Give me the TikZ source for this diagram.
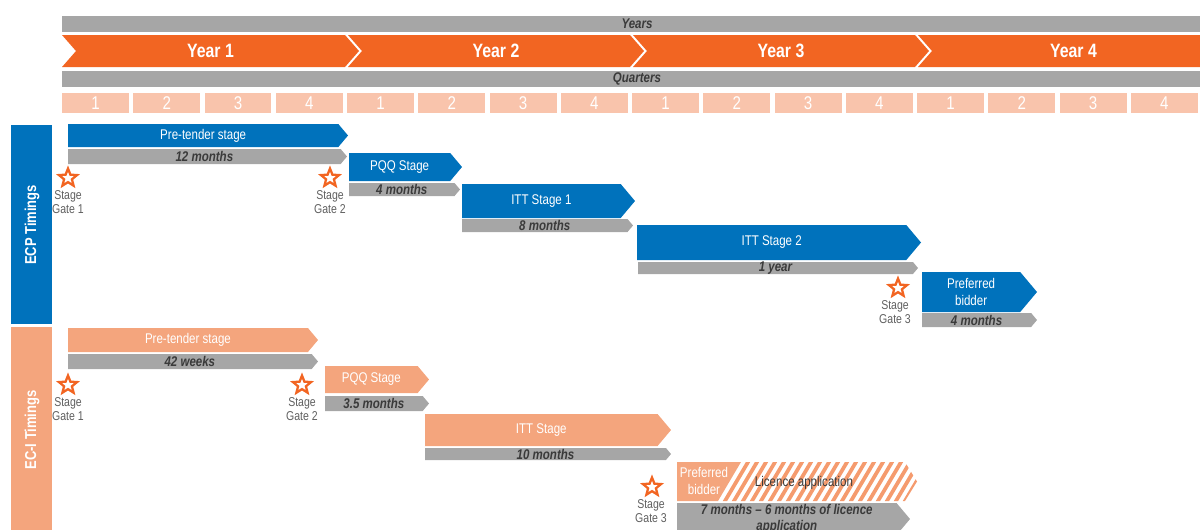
\documentclass[tikz,border=0pt]{standalone}
\usepackage{fontspec}
\setmainfont[FakeStretch=0.82]{Liberation Sans}
\usepackage{tikz}
\usetikzlibrary{shapes}
\definecolor{yearorange}{HTML}{F26522}
\definecolor{ecpblue}{HTML}{0072BC}
\definecolor{ecisalmon}{HTML}{F4A57D}
\definecolor{hatchcol}{HTML}{F59B6E}
\definecolor{quartercol}{HTML}{F9C4AC}
\definecolor{bargray}{HTML}{A6A6A6}
\definecolor{darktext}{HTML}{3A3A3A}
\definecolor{gatetxt}{HTML}{5F5F5F}
\tikzset{
	head bar/.style={fill=bargray,minimum width=23cm,minimum height=0.32cm,inner sep=0pt,
		font=\fontsize{8}{9}\selectfont\bfseries\itshape,text=darktext},
	quarter/.style={fill=quartercol,minimum width=1.34cm,minimum height=0.4cm,inner sep=0pt,
		font=\fontsize{10.5}{12}\selectfont,text=white},
	year text/.style={font=\fontsize{11}{12}\selectfont\bfseries,text=white},
	side text/.style={rotate=90,font=\fontsize{9}{10}\selectfont\bfseries,text=white},
	bar text/.style={font=\fontsize{8}{10}\selectfont,text=white,align=center,inner sep=0pt},
	dur text/.style={font=\fontsize{8}{9}\selectfont\bfseries\itshape,text=darktext,align=center,inner sep=0pt},
	gate/.style={star,star points=5,star point ratio=2.3,draw=yearorange,line width=1.3pt,
		minimum size=0.38cm,inner sep=0pt},
	gate text/.style={font=\fontsize{7.3}{7.9}\selectfont,text=gatetxt,align=center,inner sep=0pt}
}
% #1 name, #2 fill, #3 text style, #4 left, #5 top, #6 tip, #7 bottom, #8 text
\newcommand{\stagebar}[8]{%
	\fill[#2] (#4,#5) -- ({#6-0.42*(#7-#5)},#5) -- (#6,{(#5+#7)/2}) -- ({#6-0.42*(#7-#5)},#7) -- (#4,#7) -- cycle;
	\node[#3] (#1) at ({(#4+#6)/2-0.21*(#7-#5)},{(#5+#7)/2}) {#8};
}
% #1 name, #2 left, #3 right, #4 text
\newcommand{\yearchev}[4]{%
	\fill[yearorange] (#2,35) -- (#3,35) -- (#3+14,51) -- (#3,67) -- (#2,67) -- (#2+14,51) -- cycle;
	\node[year text] (#1) at ({(#2+#3)/2+7},51) {#4};
}

\begin{document}
\begin{tikzpicture}[x=0.02cm,y=-0.02cm]
	\useasboundingbox (0,0) rectangle (1200,529);
	\clip (0,0) rectangle (1200,529);

	% time scale
	\node[head bar] (yearsbar) at (637,24) {Years};
	\yearchev{year1}{62}{345}{Year 1}
	\yearchev{year2}{348}{630}{Year 2}
	\yearchev{year3}{633}{915}{Year 3}
	\yearchev{year4}{918}{1215}{Year 4}
	\node[head bar] (quartersbar) at (637,79) {Quarters};
	\foreach \i in {0,...,15}{
		\pgfmathtruncatemacro{\qn}{mod(\i,4)+1}
		\node[quarter] (q\i) at ({95.5+71.25*\i},103) {\qn};
	}

	% ECP timings
	\fill[ecpblue] (11,125) rectangle (52,324);
	\node[side text] (ecp) at (32,225) {ECP Timings};
	\stagebar{ecppre}{ecpblue}{bar text}{68}{124}{348}{147}{Pre-tender stage}
	\stagebar{ecppred}{bargray}{dur text}{68}{149}{347}{164}{12 months}
	\stagebar{ecppqq}{ecpblue}{bar text}{349}{153}{462}{181}{PQQ Stage}
	\stagebar{ecppqqd}{bargray}{dur text}{349}{183}{460}{196}{4 months}
	\stagebar{ecpitta}{ecpblue}{bar text}{462}{184}{635}{218}{ITT Stage 1}
	\stagebar{ecpittad}{bargray}{dur text}{462}{219}{633}{232}{8 months}
	\stagebar{ecpittb}{ecpblue}{bar text}{637}{225}{921}{260}{ITT Stage 2}
	\stagebar{ecpittbd}{bargray}{dur text}{638}{262}{918}{274}{1 year}
	\stagebar{ecppb}{ecpblue}{bar text}{922}{272}{1037}{312}{Preferred\\bidder}
	\stagebar{ecppbd}{bargray}{dur text}{922}{313}{1037}{327}{4 months}
	\node[gate] (ecpg1) at (68,178) {};
	\node[gate text] (ecpg1t) at (68,202) {Stage\\Gate 1};
	\node[gate] (ecpg2) at (330,178) {};
	\node[gate text] (ecpg2t) at (330,202) {Stage\\Gate 2};
	\node[gate] (ecpg3) at (898,288) {};
	\node[gate text] (ecpg3t) at (895,312) {Stage\\Gate 3};

	% EC-I timings
	\fill[ecisalmon] (11,327) rectangle (52,535);
	\node[side text] (eci) at (32,430) {EC-I Timings};
	\stagebar{ecipre}{ecisalmon}{bar text}{68}{328}{318}{352}{Pre-tender stage}
	\stagebar{ecipred}{bargray}{dur text}{68}{354}{318}{369}{42 weeks}
	\stagebar{ecipqq}{ecisalmon}{bar text}{325}{366}{429}{393}{PQQ Stage}
	\stagebar{ecipqqd}{bargray}{dur text}{325}{396}{429}{411}{3.5 months}
	\stagebar{eciitt}{ecisalmon}{bar text}{425}{414}{671}{446}{ITT Stage}
	\stagebar{eciittd}{bargray}{dur text}{425}{448}{671}{460}{10 months}
	\fill[ecisalmon] (677,462) -- (741,462) -- (718,501) -- (677,501) -- cycle;
	\begin{scope}
		\clip (718,501) -- (741,462) -- (905,462) -- (917,481.5) -- (905,501) -- cycle;
		\foreach \k in {0,...,22}
			\draw[hatchcol,line width=0.075cm] ({722+9*\k},506) -- ++(29,-49);
	\end{scope}
	\node[bar text] (ecipb) at (704,481) {Preferred\\bidder};
	\node[bar text,text=darktext] (ecilic) at (804,483) {Licence application};
	\stagebar{ecilicd}{bargray}{dur text}{677}{503}{910}{535}{7 months -- 6 months of licence\\application}
	\node[gate] (ecig1) at (68,385) {};
	\node[gate text] (ecig1t) at (68,409) {Stage\\Gate 1};
	\node[gate] (ecig2) at (302,385) {};
	\node[gate text] (ecig2t) at (302,409) {Stage\\Gate 2};
	\node[gate] (ecig3) at (652,487) {};
	\node[gate text] (ecig3t) at (651,511) {Stage\\Gate 3};
\end{tikzpicture}
\end{document}
